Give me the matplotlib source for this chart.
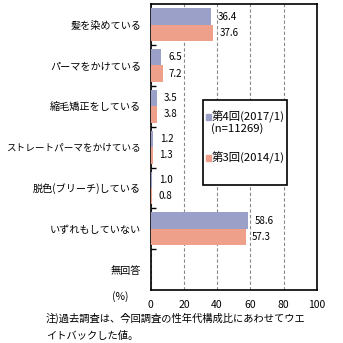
import numpy as np
import matplotlib.pyplot as plt
from matplotlib.patches import Rectangle

plt.rcParams['font.family'] = ['Noto Sans CJK JP', 'DejaVu Sans']

categories = ['髪を染めている', 'パーマをかけている', '縮毛矯正をしている',
              'ストレートパーマをかけている', '脱色(ブリーチ)している',
              'いずれもしていない', '無回答']
vals_2017 = [36.4, 6.5, 3.5, 1.2, 1.0, 58.6, np.nan]
vals_2014 = [37.6, 7.2, 3.8, 1.3, 0.8, 57.3, np.nan]
xticks = [0, 20, 40, 60, 80, 100]

blue = '#9ba0c8'
salmon = '#eea08a'
W = H = 343

fig = plt.figure(figsize=(3.43, 3.43), dpi=100)
ax = fig.add_axes([150.7 / W, 1 - 290 / H, 166 / W, 285.7 / H])

y = np.arange(len(categories))
ax.barh(y - 0.2, vals_2017, height=0.405, color=blue, zorder=3)
ax.barh(y + 0.2, vals_2014, height=0.405, color=salmon, zorder=3)

for yi, v in zip(y, vals_2017):
    if not np.isnan(v):
        ax.annotate(f'{v:.1f}', (v, yi - 0.2), xytext=(5, 0), textcoords='offset points',
                    ha='left', va='center', fontsize=7)
for yi, v in zip(y, vals_2014):
    if not np.isnan(v):
        ax.annotate(f'{v:.1f}', (v, yi + 0.2), xytext=(4.5, 0), textcoords='offset points',
                    ha='left', va='center', fontsize=7)

ax.set_xlim(0, 100)
ax.set_ylim(len(categories) - 0.5, -0.5)
ax.set_xticks(xticks)
ax.set_xticklabels([str(t) for t in xticks], fontsize=7.5)
ax.tick_params(axis='x', length=0, pad=7)
ax.set_yticks(y)
ax.set_yticklabels(categories, fontsize=7.3)
for lab in ax.get_yticklabels():
    if len(lab.get_text()) > 12:
        lab.set_fontsize(6.9)
ax.tick_params(axis='y', which='major', length=0, pad=7)
ax.set_yticks(y[:-1] + 0.5, minor=True)
ax.tick_params(axis='y', which='minor', direction='in', length=3.5, width=1)
ax.xaxis.grid(True, color='#888888', linestyle=(0, (3, 2)), linewidth=0.8, zorder=0)
for s in ax.spines.values():
    s.set_linewidth(1.2)

# legend box drawn by hand
fig.patches.append(Rectangle((202.5 / W, 1 - 185 / H), 84.5 / W, 85 / H,
                             transform=fig.transFigure, facecolor='white',
                             edgecolor='black', linewidth=1.2, zorder=5))
for yy, col in [(117, blue), (158, salmon)]:
    fig.patches.append(Rectangle((205.5 / W, 1 - (yy + 2.5) / H), 5 / W, 5 / H,
                                 transform=fig.transFigure, color=col, zorder=6))
fig.text(212 / W, 1 - 117 / H, '第4回(2017/1)', fontsize=8.2, va='center', ha='left', zorder=7)
fig.text(211 / W, 1 - 129 / H, '(n=11269)', fontsize=8.2, va='center', ha='left', zorder=7)
fig.text(212 / W, 1 - 158 / H, '第3回(2014/1)', fontsize=8.2, va='center', ha='left', zorder=7)

fig.text(120 / W, 1 - 297 / H, '(%)', fontsize=7.5, ha='center', va='center')
fig.text(46 / W, 1 - 318 / H, '注)過去調査は、今回調査の性年代構成比にあわせてウエ',
         fontsize=7.4, ha='left', va='center')
fig.text(46 / W, 1 - 336 / H, 'イトバックした値。', fontsize=7.4, ha='left', va='center')

fig.savefig('out.png', dpi=100)
